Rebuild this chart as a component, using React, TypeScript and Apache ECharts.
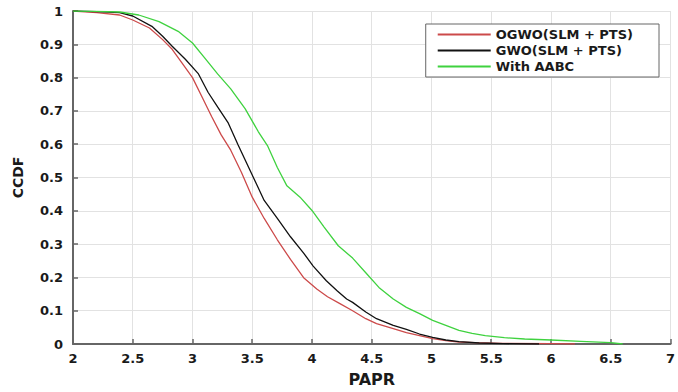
import React, { useEffect, useRef } from "react";
import * as echarts from "echarts";

const ogwoX = [2.0, 2.2, 2.39, 2.5, 2.64, 2.75, 2.83, 2.91, 3.0, 3.08, 3.16, 3.24, 3.32, 3.41, 3.5, 3.6, 3.71, 3.82, 3.93, 4.04, 4.13, 4.23, 4.34, 4.45, 4.54, 4.68, 4.79, 4.9, 5.01, 5.12, 5.23, 5.36, 5.6, 6.0, 6.2];
const ogwoY = [1.0, 0.995, 0.988, 0.973, 0.949, 0.914, 0.885, 0.845, 0.8, 0.742, 0.683, 0.628, 0.582, 0.515, 0.441, 0.377, 0.313, 0.254, 0.199, 0.165, 0.142, 0.122, 0.1, 0.076, 0.061, 0.046, 0.034, 0.025, 0.016, 0.01, 0.006, 0.004, 0.002, 0.001, 0.0];

const gwoX = [2.0, 2.2, 2.39, 2.5, 2.66, 2.75, 2.83, 2.94, 3.05, 3.13, 3.21, 3.3, 3.38, 3.49, 3.6, 3.71, 3.82, 3.93, 4.01, 4.12, 4.21, 4.29, 4.34, 4.45, 4.54, 4.68, 4.79, 4.9, 5.01, 5.12, 5.23, 5.4, 5.6, 5.9];
const gwoY = [1.0, 0.998, 0.995, 0.985, 0.954, 0.924, 0.894, 0.855, 0.811, 0.756, 0.712, 0.663, 0.599, 0.515, 0.431, 0.377, 0.322, 0.273, 0.234, 0.19, 0.16, 0.135, 0.125, 0.096, 0.076, 0.056, 0.044, 0.03, 0.02, 0.012, 0.007, 0.003, 0.001, 0.0];

const aabcX = [2.0, 2.2, 2.39, 2.55, 2.72, 2.88, 3.0, 3.1, 3.21, 3.32, 3.44, 3.55, 3.63, 3.71, 3.79, 3.9, 4.0, 4.1, 4.22, 4.34, 4.45, 4.56, 4.68, 4.79, 4.9, 5.01, 5.12, 5.23, 5.34, 5.45, 5.61, 5.78, 6.0, 6.25, 6.5, 6.6];
const aabcY = [1.0, 0.999, 0.997, 0.988, 0.968, 0.939, 0.904, 0.86, 0.811, 0.766, 0.707, 0.638, 0.594, 0.53, 0.475, 0.441, 0.401, 0.352, 0.295, 0.258, 0.214, 0.17, 0.135, 0.11, 0.091, 0.071, 0.056, 0.041, 0.032, 0.025, 0.019, 0.015, 0.012, 0.008, 0.004, 0.0];

const seriesNames = ["OGWO(SLM + PTS)", "GWO(SLM + PTS)", "With AABC"];
const xTitle = "PAPR";
const yTitle = "CCDF";

const pairs = (xs: number[], ys: number[]) => xs.map((x, i) => [x, ys[i]]);

export default function App() {
  const ref = useRef<HTMLDivElement>(null);
  useEffect(() => {
    if (!ref.current) return;
    const chart = echarts.init(ref.current, null, { renderer: "svg" });
    const font = "DejaVu Sans";
    const lineSeries = (name: string, data: number[][], color: string) => ({
      name,
      type: "line",
      data,
      showSymbol: false,
      symbol: "none",
      smooth: false,
      lineStyle: { color, width: 1.3 },
      itemStyle: { color },
    });
    chart.setOption({
      animation: false,
      backgroundColor: "#ffffff",
      grid: { left: 73, right: 0, top: 11, bottom: 43, containLabel: false },
      legend: {
        orient: "vertical",
        right: 19,
        top: 24,
        backgroundColor: "#ffffff",
        borderColor: "#666666",
        borderWidth: 1,
        padding: [4, 26, 4, 12],
        itemGap: 3,
        itemWidth: 53,
        itemHeight: 2,
        icon: "rect",
        textStyle: { fontFamily: font, fontWeight: "bold", fontSize: 13, color: "#1a1a1a" },
        data: seriesNames,
      },
      xAxis: {
        type: "value",
        min: 2,
        max: 7,
        interval: 0.5,
        name: xTitle,
        nameLocation: "middle",
        nameGap: 27,
        nameTextStyle: { fontFamily: font, fontWeight: "bold", fontSize: 16, color: "#1a1a1a" },
        axisLine: { show: true, onZero: false, lineStyle: { color: "#666666", width: 2 } },
        axisTick: { show: true, inside: true, length: 5, lineStyle: { color: "#666666", width: 1.5 } },
        axisLabel: {
          margin: 8,
          fontFamily: font,
          fontWeight: "bold",
          fontSize: 13,
          color: "#1a1a1a",
          alignMaxLabel: "center",
          formatter: (v: number) => String(+v.toFixed(1)),
        },
        splitLine: { show: true, lineStyle: { color: "#e2e2e2", width: 1 } },
      },
      yAxis: {
        type: "value",
        min: 0,
        max: 1,
        interval: 0.1,
        name: yTitle,
        nameLocation: "middle",
        nameGap: 48,
        nameTextStyle: { fontFamily: font, fontWeight: "bold", fontSize: 14, color: "#1a1a1a" },
        axisLine: { show: true, lineStyle: { color: "#666666", width: 2 } },
        axisTick: { show: true, inside: true, length: 5, lineStyle: { color: "#666666", width: 1.5 } },
        axisLabel: {
          margin: 10,
          fontFamily: font,
          fontWeight: "bold",
          fontSize: 13,
          color: "#1a1a1a",
          formatter: (v: number) => String(+v.toFixed(1)),
        },
        splitLine: { show: true, lineStyle: { color: "#e2e2e2", width: 1 } },
      },
      series: [
        lineSeries(seriesNames[0], pairs(ogwoX, ogwoY), "#cc4a4a"),
        lineSeries(seriesNames[1], pairs(gwoX, gwoY), "#111111"),
        lineSeries(seriesNames[2], pairs(aabcX, aabcY), "#3fd23f"),
      ],
    });
    return () => chart.dispose();
  }, []);
  return (
    <div
      ref={ref}
      style={{ position: "fixed", left: 0, top: 0, width: 678, height: 392, background: "#fff" }}
    />
  );
}
